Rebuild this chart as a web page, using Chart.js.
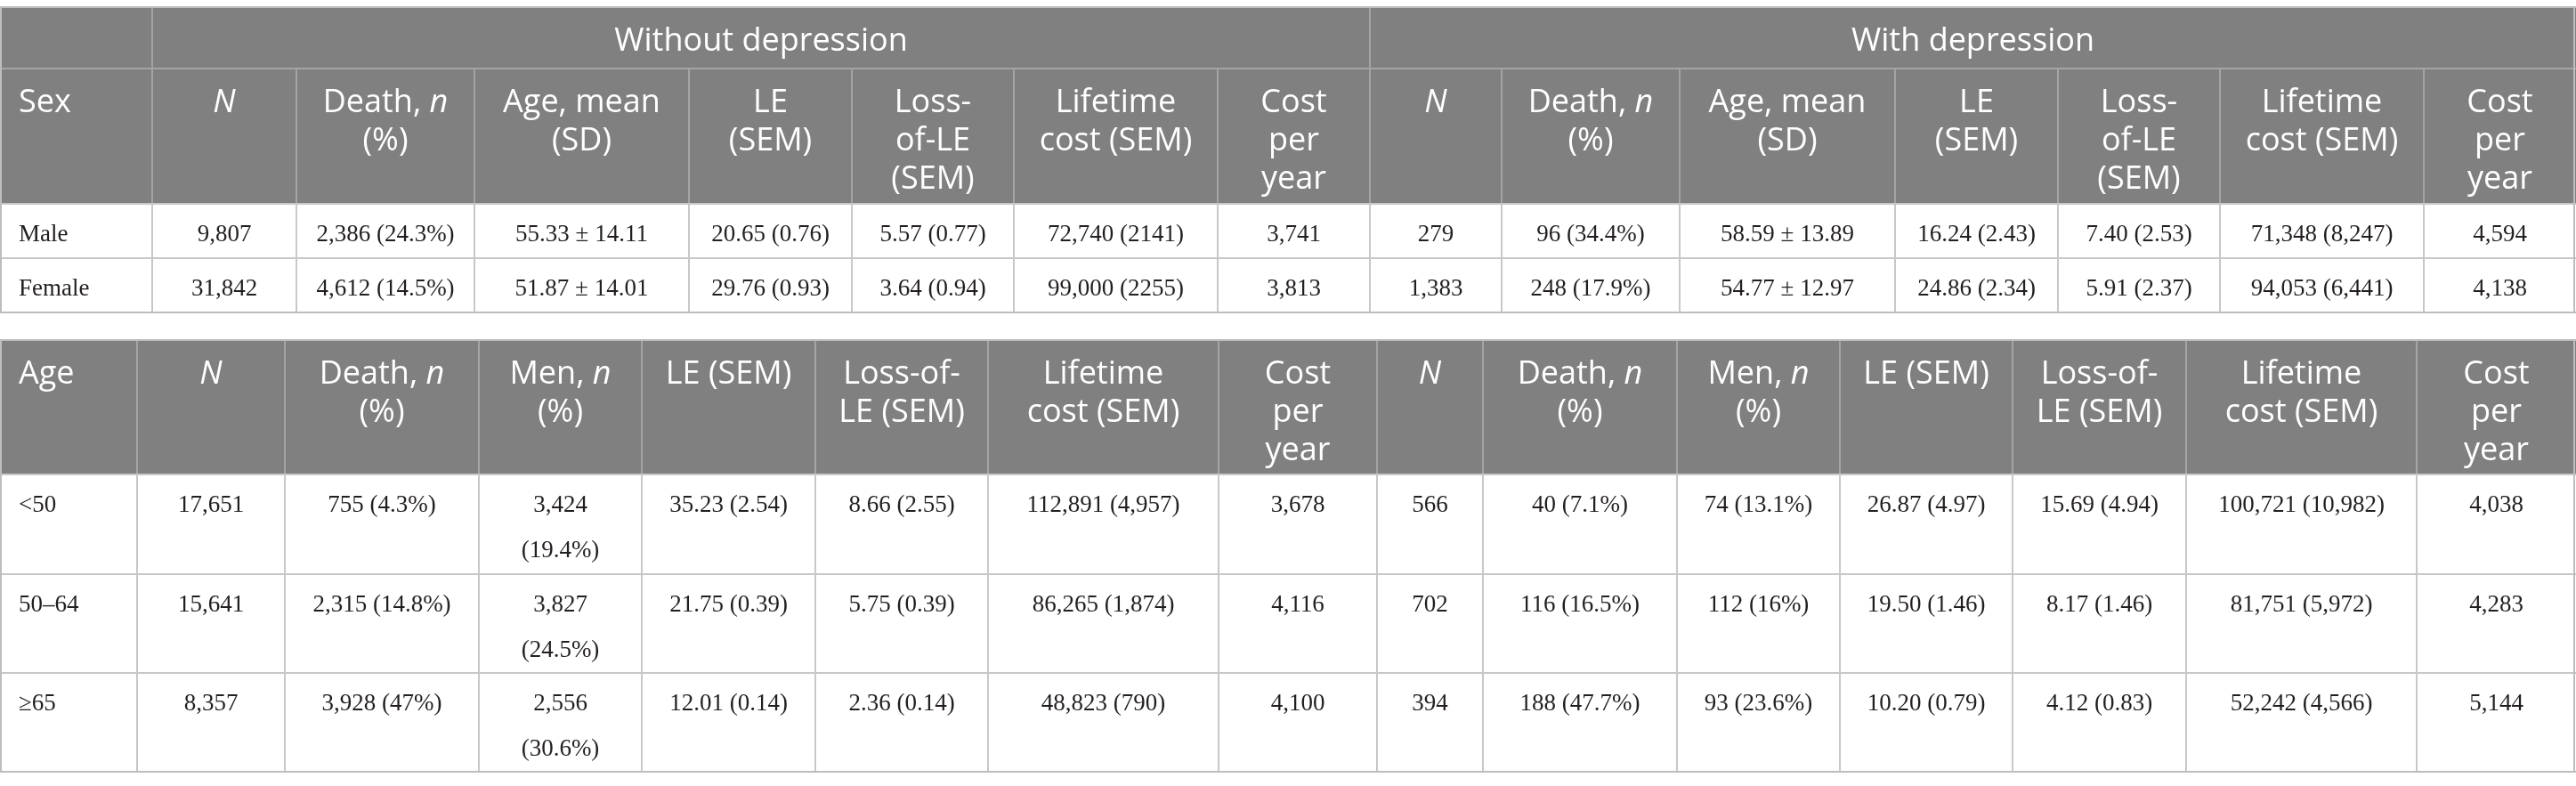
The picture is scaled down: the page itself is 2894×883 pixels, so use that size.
<!DOCTYPE html>
<html>
<head>
<meta charset="utf-8">
<script src="https://cdn.jsdelivr.net/npm/chart.js@4.4.1/dist/chart.umd.min.js"></script>
<style>
html,body{margin:0;padding:0;background:#ffffff;overflow:hidden}
#wrap{position:relative;width:2894px;height:883px}
</style>
</head>
<body>
<div id="wrap"><canvas id="c"></canvas></div>
<script>
// ---------------- DATA ----------------
const groupLabels = ["Without depression", "With depression"];

// Table 1 (by sex): column headers (\n = line break, *..* = italic)
const sexHeaderLabels = [
  "Sex",
  "*N*", "Death, *n*\n(%)", "Age, mean\n(SD)", "LE\n(SEM)", "Loss-\nof-LE\n(SEM)", "Lifetime\ncost (SEM)", "Cost\nper\nyear",
  "*N*", "Death, *n*\n(%)", "Age, mean\n(SD)", "LE\n(SEM)", "Loss-\nof-LE\n(SEM)", "Lifetime\ncost (SEM)", "Cost\nper\nyear"
];
const sexCategories = ["Male", "Female"];
const maleValues = ["9,807", "2,386 (24.3%)", "55.33 ± 14.11", "20.65 (0.76)", "5.57 (0.77)", "72,740 (2141)", "3,741",
                    "279", "96 (34.4%)", "58.59 ± 13.89", "16.24 (2.43)", "7.40 (2.53)", "71,348 (8,247)", "4,594"];
const femaleValues = ["31,842", "4,612 (14.5%)", "51.87 ± 14.01", "29.76 (0.93)", "3.64 (0.94)", "99,000 (2255)", "3,813",
                      "1,383", "248 (17.9%)", "54.77 ± 12.97", "24.86 (2.34)", "5.91 (2.37)", "94,053 (6,441)", "4,138"];

// Table 2 (by age)
const ageHeaderLabels = [
  "Age",
  "*N*", "Death, *n*\n(%)", "Men, *n*\n(%)", "LE (SEM)", "Loss-of-\nLE (SEM)", "Lifetime\ncost (SEM)", "Cost\nper\nyear",
  "*N*", "Death, *n*\n(%)", "Men, *n*\n(%)", "LE (SEM)", "Loss-of-\nLE (SEM)", "Lifetime\ncost (SEM)", "Cost\nper\nyear"
];
const ageCategories = ["<50", "50–64", "≥65"];
const ageUnder50Values = ["17,651", "755 (4.3%)", "3,424 (19.4%)", "35.23 (2.54)", "8.66 (2.55)", "112,891 (4,957)", "3,678",
                          "566", "40 (7.1%)", "74 (13.1%)", "26.87 (4.97)", "15.69 (4.94)", "100,721 (10,982)", "4,038"];
const age50to64Values = ["15,641", "2,315 (14.8%)", "3,827 (24.5%)", "21.75 (0.39)", "5.75 (0.39)", "86,265 (1,874)", "4,116",
                         "702", "116 (16.5%)", "112 (16%)", "19.50 (1.46)", "8.17 (1.46)", "81,751 (5,972)", "4,283"];
const age65plusValues = ["8,357", "3,928 (47%)", "2,556 (30.6%)", "12.01 (0.14)", "2.36 (0.14)", "48,823 (790)", "4,100",
                         "394", "188 (47.7%)", "93 (23.6%)", "10.20 (0.79)", "4.12 (0.83)", "52,242 (4,566)", "5,144"];

// ---------------- LAYOUT (scale units) ----------------
const W = 2894, H = 883;
const colEdges1 = [0, 171, 333, 533, 774, 957, 1139, 1368, 1539, 1687, 1887, 2129, 2312, 2494, 2723, 2894];
const rowEdges1 = [8, 77, 229, 290, 351];
const colEdges2 = [0, 154, 320, 538, 721, 916, 1110, 1369, 1547, 1666, 1884, 2067, 2261, 2456, 2715, 2894];
const rowEdges2 = [382, 533, 645, 756, 867];
const groupSplitCol = 8;

const STYLE = {
  headFill: "#808080",
  headLine: "#a4a4a4",
  bodyLine: "#c8c8c8",
  border: "#bdbdbd",
  headText: "#ffffff",
  bodyText: "#231f20",
  headFont: '"Open Sans", "Noto Sans", sans-serif',
  headSize: 36,
  bodyFont: '"Liberation Serif", serif',
  bodySize: 27,
  headBase: 49, headLineGap: 43,
  bodyBase: 42, bodyLineGap: 51,
  padLeft: 21, padWrap: 18
};

function segs(line) {
  return line.split("*").map((t, i) => ({ t, it: i % 2 === 1 })).filter(s => s.t.length);
}
function fontOf(it, size, fam) { return (it ? "italic " : "") + size + "px " + fam; }
function lineWidth(ctx, line, size, fam) {
  let w = 0;
  for (const s of segs(line)) { ctx.font = fontOf(s.it, size, fam); w += ctx.measureText(s.t).width; }
  return w;
}
function drawLine(ctx, line, x, y, align, size, fam) {
  const w = lineWidth(ctx, line, size, fam);
  let sx = align === "left" ? x : x - w / 2;
  for (const s of segs(line)) {
    ctx.font = fontOf(s.it, size, fam);
    ctx.fillText(s.t, sx, y);
    sx += ctx.measureText(s.t).width;
  }
}
function wrap(ctx, text, maxW, size, fam) {
  ctx.font = fontOf(false, size, fam);
  const words = text.split(" ");
  const lines = [];
  let cur = "";
  for (const w of words) {
    const test = cur ? cur + " " + w : w;
    if (cur && ctx.measureText(test).width > maxW) { lines.push(cur); cur = w; }
    else cur = test;
  }
  if (cur) lines.push(cur);
  return lines;
}

function drawTable(chart, t) {
  const ctx = chart.ctx;
  const xs = chart.scales.x, ys = chart.scales.y;
  const px = v => xs.getPixelForValue(v);
  const py = v => ys.getPixelForValue(v);
  const cols = t.cols, rows = t.rows;
  const nHead = t.headRows;
  const left = px(cols[0]), right = px(cols[cols.length - 1]);

  // header background
  ctx.fillStyle = STYLE.headFill;
  ctx.fillRect(left, py(rows[0]), right - left, py(rows[nHead]) - py(rows[0]));

  const hline = (x1, x2, y, c) => { ctx.strokeStyle = c; ctx.lineWidth = 2; ctx.beginPath(); ctx.moveTo(px(x1), py(y)); ctx.lineTo(px(x2), py(y)); ctx.stroke(); };
  const vline = (x, y1, y2, c) => { ctx.strokeStyle = c; ctx.lineWidth = 2; ctx.beginPath(); ctx.moveTo(px(x), py(y1)); ctx.lineTo(px(x), py(y2)); ctx.stroke(); };

  // header lines
  if (t.group) {
    vline(cols[1], rows[0], rows[1], STYLE.headLine);
    vline(cols[groupSplitCol], rows[0], rows[1], STYLE.headLine);
    hline(cols[0], cols[cols.length - 1], rows[1], STYLE.headLine);
  }
  for (let c = 1; c < cols.length - 1; c++) vline(cols[c], rows[nHead - 1], rows[nHead], STYLE.headLine);

  // body lines
  for (let r = nHead + 1; r < rows.length; r++) hline(cols[0], cols[cols.length - 1], rows[r], STYLE.bodyLine);
  for (let c = 1; c < cols.length - 1; c++) vline(cols[c], rows[nHead], rows[rows.length - 1], STYLE.bodyLine);
  hline(cols[0], cols[cols.length - 1], rows[nHead], STYLE.bodyLine);

  // outer border
  hline(cols[0], cols[cols.length - 1], rows[0], STYLE.border);
  hline(cols[0], cols[cols.length - 1], rows[rows.length - 1], STYLE.border);
  vline(cols[0] + 1, rows[0], rows[rows.length - 1], STYLE.border);
  vline(cols[cols.length - 1] - 2, rows[0], rows[rows.length - 1], STYLE.border);

  ctx.textBaseline = "alphabetic";
  // group header texts
  ctx.fillStyle = STYLE.headText;
  if (t.group) {
    const spans = [[1, groupSplitCol], [groupSplitCol, cols.length - 1]];
    t.group.forEach((g, i) => {
      const cx = (px(cols[spans[i][0]]) + px(cols[spans[i][1]])) / 2;
      drawLine(ctx, g, cx, py(rows[0] + STYLE.headBase), "center", STYLE.headSize, STYLE.headFont);
    });
  }
  // column header texts
  const hTop = rows[nHead - 1];
  t.headers.forEach((h, c) => {
    const lines = h.split("\n");
    lines.forEach((ln, i) => {
      const y = py(hTop + STYLE.headBase + i * STYLE.headLineGap);
      if (c === 0) drawLine(ctx, ln, px(cols[0] + STYLE.padLeft), y, "left", STYLE.headSize, STYLE.headFont);
      else drawLine(ctx, ln, (px(cols[c]) + px(cols[c + 1])) / 2, y, "center", STYLE.headSize, STYLE.headFont);
    });
  });

  // body texts
  ctx.fillStyle = STYLE.bodyText;
  t.body.forEach((rowVals, r) => {
    const top = rows[nHead + r];
    const cells = [t.stubs[r]].concat(rowVals);
    cells.forEach((v, c) => {
      if (c === 0) {
        drawLine(ctx, v, px(cols[0] + STYLE.padLeft), py(top + STYLE.bodyBase), "left", STYLE.bodySize, STYLE.bodyFont);
      } else {
        const maxW = px(cols[c + 1]) - px(cols[c]) - 2 * STYLE.padWrap;
        const lines = wrap(ctx, v, maxW, STYLE.bodySize, STYLE.bodyFont);
        lines.forEach((ln, i) => {
          drawLine(ctx, ln, (px(cols[c]) + px(cols[c + 1])) / 2, py(top + STYLE.bodyBase + i * STYLE.bodyLineGap), "center", STYLE.bodySize, STYLE.bodyFont);
        });
      }
    });
  });
}

const tablePlugin = {
  id: "tablePlugin",
  afterDraw(chart) {
    const ctx = chart.ctx;
    ctx.save();
    drawTable(chart, {
      cols: colEdges1, rows: rowEdges1, headRows: 2, group: groupLabels,
      headers: sexHeaderLabels, stubs: sexCategories, body: [maleValues, femaleValues]
    });
    drawTable(chart, {
      cols: colEdges2, rows: rowEdges2, headRows: 1, group: null,
      headers: ageHeaderLabels, stubs: ageCategories, body: [ageUnder50Values, age50to64Values, age65plusValues]
    });
    ctx.restore();
  }
};

function build() {
  new Chart(document.getElementById("c"), {
    type: "scatter",
    data: { datasets: [{ data: [], pointRadius: 0 }] },
    options: {
      responsive: true, maintainAspectRatio: false, animation: false, devicePixelRatio: 1,
      events: [],
      layout: { padding: 0 },
      plugins: { legend: { display: false }, tooltip: { enabled: false }, title: { display: false } },
      scales: {
        x: { type: "linear", min: 0, max: W, display: false },
        y: { type: "linear", min: 0, max: H, reverse: true, display: false }
      }
    },
    plugins: [tablePlugin]
  });
}
const fontLoads = [
  '36px "Open Sans"', 'italic 36px "Open Sans"', '27px "Liberation Serif"'
].map(f => (document.fonts && document.fonts.load) ? document.fonts.load(f).catch(() => null) : Promise.resolve());
Promise.all(fontLoads).then(build, build);
</script>
</body>
</html>
